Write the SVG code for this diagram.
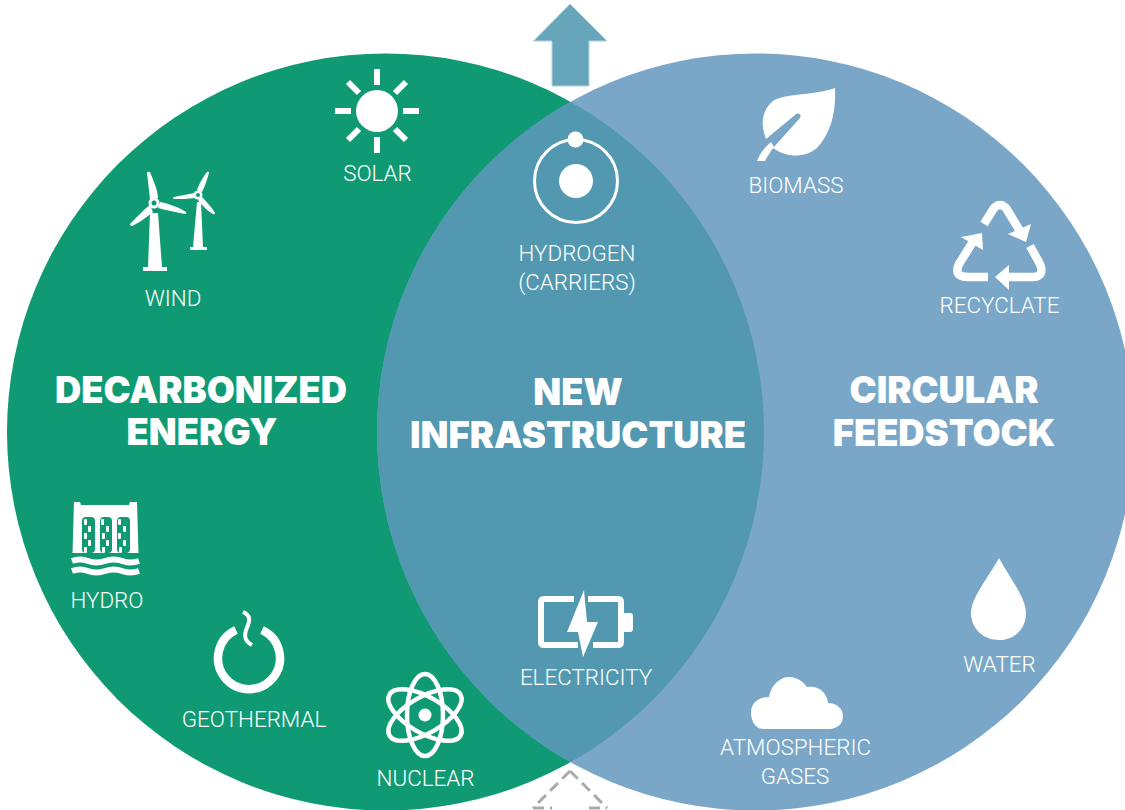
<svg xmlns="http://www.w3.org/2000/svg" width="1125" height="810" viewBox="0 0 1125 810">
<defs>
<style>
.l{font-family:Roboto,"Liberation Sans",Arial,sans-serif;font-weight:300;font-size:22.400px;fill:#fff;text-anchor:middle}
.h{font-family:Inter,"Liberation Sans",sans-serif;font-weight:900;font-size:36.300px;fill:#fff;text-anchor:middle}
.i{fill:#fff;stroke:none}
.s{fill:none;stroke:#fff}
</style>
<clipPath id="lc"><circle cx="385.5" cy="432" r="378.5"/></clipPath>
</defs>
<rect width="1125" height="810" fill="#fff"/>
<g id="venn">
<circle cx="385.5" cy="432" r="378.5" fill="#109a73"/>
<circle cx="755.5" cy="432" r="378.5" fill="#7aa7c7"/>
<circle cx="755.5" cy="432" r="378.5" fill="#5398b1" clip-path="url(#lc)"/>
</g>
<g id="connectors">
<path d="M570 4L607 41H589V86H552V41H533.500Z" fill="#66a5ba" stroke="#b5d3de" stroke-width="1"/>
<path d="M570 771L607 808M570 771L533 808M533 808H552M589 808H607" fill="none" stroke="#aaa" stroke-width="3" stroke-dasharray="11 6"/>
</g>
<g id="solar">
<circle class="i" cx="377" cy="111" r="21"/>
<path d="M377 69V85M377 137V153M335 111H351M403 111H419M348 82L359 93M395 129L406 140M406 82L395 93M359 129L348 140" class="s" stroke-width="6"/>
<text class="l" x="377.500" y="180.500">SOLAR</text>
</g>
<g id="wind">
<path class="i" d="M150 213H158L162 267H167V271H143V267H148Z"/>
<path class="i" d="M197 202H201L203 247H207V250H190V247H193Z"/>
<path class="i" d="M147 173Q148 171 150 172C153 180 158 190 158 198L150 199ZM160 202C170 204 180 208 186 212Q187 214 185 214C175 212 165 210 158 208ZM150 205L153 212C146 218 138 223 132 226Q130 226 130 224C136 218 143 210 150 205ZM207 172Q209 171 209 173C207 180 205 186 202 192L197 190C199 184 203 177 207 172ZM195 193V198C188 199 180 199 174 199Q172 198 174 197C180 196 188 194 195 193ZM202 197C207 202 212 208 215 213Q215 215 213 214C207 211 202 205 198 200Z"/>
<circle class="i" cx="154" cy="203" r="5.500"/><circle class="i" cx="198" cy="195" r="4.500"/>
<circle cx="154" cy="203" r="2.500" fill="#109a73"/><circle cx="198" cy="195" r="2" fill="#109a73"/>
<text class="l" x="173" y="305.500">WIND</text>
</g>
<g id="hydro">
<path class="i" d="M74 502H80L81 505H129L130 502H137L138.500 553H72.500Z"/>
<g fill="#109a73">
<rect x="82" y="517" width="13" height="36" rx="4"/><rect x="100" y="517" width="12" height="36" rx="4"/><rect x="117" y="517" width="13" height="36" rx="4"/>
</g>
<g fill="#fff">
<rect x="84" y="519" width="3" height="6" rx="1"/><rect x="101" y="519" width="3" height="6" rx="1"/><rect x="118" y="519" width="3" height="6" rx="1"/>
<rect x="88" y="526" width="3" height="6" rx="1"/><rect x="106" y="526" width="3" height="6" rx="1"/><rect x="123" y="526" width="3" height="6" rx="1"/>
<rect x="84" y="533" width="3" height="6" rx="1"/><rect x="102" y="533" width="3" height="6" rx="1"/><rect x="118" y="533" width="3" height="6" rx="1"/>
<rect x="88" y="540" width="3" height="6" rx="1"/><rect x="106" y="540" width="3" height="6" rx="1"/><rect x="123" y="540" width="3" height="6" rx="1"/>
<rect x="84" y="547" width="3" height="6" rx="1"/><rect x="102" y="547" width="3" height="6" rx="1"/><rect x="119" y="547" width="3" height="6" rx="1"/>
</g>
<path class="s" stroke-width="6" d="M72 561Q80 558 88 561T105 561T122 561T139 561M72 571Q80 568 88 571T105 571T122 571T139 571"/>
<text class="l" x="107" y="607.500">HYDRO</text>
</g>
<g id="geothermal">
<path class="s" stroke-width="8.500" d="M236 630A31 31 0 1 0 262 630"/>
<path class="s" stroke-width="4" d="M243 612C250 615 250 619 248 625C245 632 242 640 252 645"/>
<text class="l" x="254" y="726.500">GEOTHERMAL</text>
</g>
<g id="nuclear">
<g class="s" stroke-width="4.500">
<ellipse cx="425" cy="715" rx="18" ry="41"/>
<ellipse cx="425" cy="715" rx="18" ry="41" transform="rotate(60 425 715)"/>
<ellipse cx="425" cy="715" rx="18" ry="41" transform="rotate(-60 425 715)"/>
</g>
<circle class="i" cx="425" cy="715" r="6.500"/>
<text class="l" x="425.500" y="786">NUCLEAR</text>
</g>
<g id="hydrogen">
<circle class="s" stroke-width="3" cx="576" cy="181" r="41.500"/>
<circle class="i" cx="576" cy="181" r="17"/>
<circle class="i" cx="575.500" cy="139.500" r="8"/>
<text class="l" x="577" y="260.500">HYDROGEN</text>
<text class="l" x="577" y="289.500">(CARRIERS)</text>
</g>
<g id="electricity">
<path class="s" stroke-width="6" d="M574 599H544Q541 599 541 602V642Q541 645 544 645H578M588 599H618Q621 599 621 602V642Q621 645 618 645H593"/>
<path class="i" d="M584 590L567 632H578L583 657L598 622H587Z"/>
<path class="i" d="M622 613H630Q633 613 633 616V629Q633 632 630 632H622Z"/>
<text class="l" x="586" y="684.500">ELECTRICITY</text>
</g>
<g id="biomass">
<path class="i" d="M835 88C836 110 832 132 817 148C803 159 786 157 773 148L800 118C802 114 798 112 795 115L766 139C760 124 762 110 773 101C785 93 812 96 835 88Z"/>
<path class="i" d="M757 161C760 153 765 147 771 142L774 147C770 152 767 157 765 161Z"/>
<text class="l" x="796" y="192.500">BIOMASS</text>
</g>
<g id="recyclate">
<g class="s" stroke-width="8.500">
<path d="M984 224L994 208Q1000 202 1006 208L1023 236"/>
<path d="M1030 246L1040 264Q1045 277 1032 277H1004"/>
<path d="M988 277H968Q953 277 959 264L974 240"/>
</g>
<path class="i" d="M1008 234L1031 224L1026 242ZM1009 265L995 277L1009 290ZM961 237L982 233L983 250Z"/>
<text class="l" x="999.500" y="313">RECYCLATE</text>
</g>
<g id="water">
<path class="i" d="M999 558C1010 578 1026 598 1026 613C1026 630 1013 640 999 640C984 640 971 629 971 613C971 598 988 578 999 558Z"/>
<text class="l" x="999.500" y="672">WATER</text>
</g>
<g id="atmospheric-gases">
<path class="i" d="M764 729C752 729 751 715 751 713C751 703 758 697 769 697C771 685 780 677 789 677C798 677 804 683 807 687C818 685 827 692 828 703C837 703 843 709 843 716C843 724 837 729 829 729Z"/>
<text class="l" x="795.500" y="754.500">ATMOSPHERIC</text>
<text class="l" x="795" y="783.500">GASES</text>
</g>
<g id="headings">
<text class="h" x="201" y="402.500">DECARBONIZED</text>
<text class="h" x="202" y="444.500">ENERGY</text>
<text class="h" x="578" y="404.500">NEW</text>
<text class="h" x="578" y="447.500">INFRASTRUCTURE</text>
<text class="h" x="944" y="402.500">CIRCULAR</text>
<text class="h" x="944" y="445.500">FEEDSTOCK</text>
</g>
</svg>
